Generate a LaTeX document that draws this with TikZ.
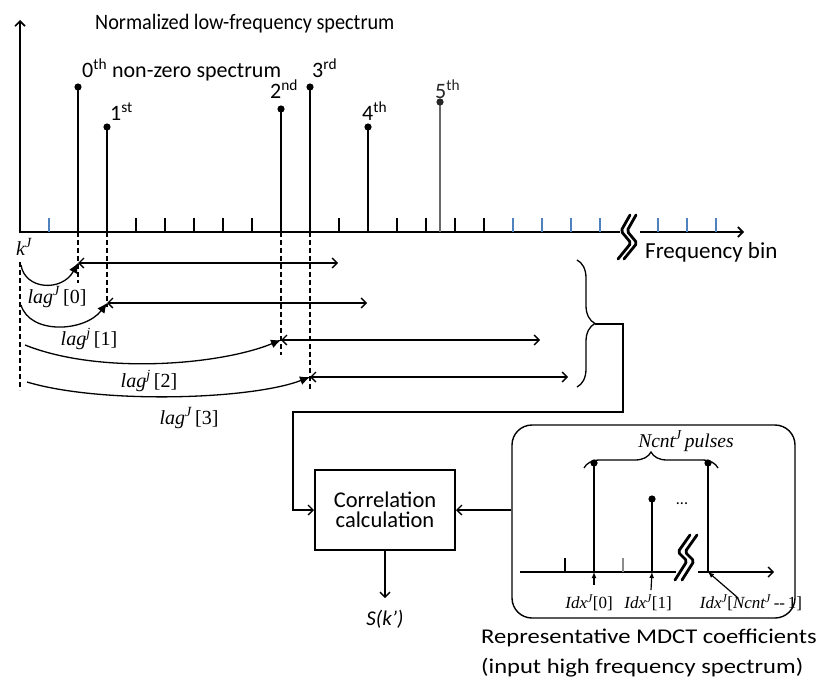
\documentclass[tikz,border=0pt]{standalone}
\usepackage{fontspec}
\setmainfont{Carlito}
\newfontfamily\tms{Liberation Serif}
\newfontfamily\wsans[FakeStretch=1.17]{Carlito}
\newfontfamily\nsans[FakeStretch=0.92]{Carlito}
\usetikzlibrary{arrows.meta,decorations.pathreplacing}
\definecolor{tickblue}{RGB}{79,129,189}
\definecolor{stemgray}{RGB}{105,105,105}
\newcommand\myfs[1]{\fontsize{#1}{#1}\selectfont}
\tikzset{
  axisline/.style={line width=1.6pt,-{Straight Barb[length=5pt,width=10pt]}},
  tickb/.style={line width=1.5pt},
  tickc/.style={line width=1.2pt,tickblue},
  stemline/.style={line width=1.7pt},
  dashv/.style={line width=1.3pt,dash pattern=on 5pt off 3pt},
  dbl/.style={line width=1.3pt,{Straight Barb[length=5pt,width=10pt]}-{Straight Barb[length=5pt,width=10pt]}},
  openarr/.style={line width=1.3pt,-{Straight Barb[length=5pt,width=10pt]}},
  lagarr/.style={line width=1.3pt,-{Latex[length=10pt,width=9pt]}},
  smallarr/.style={line width=1.2pt,-{Latex[length=6pt,width=5pt]}},
  brk/.style={line width=2.8pt,line cap=round,line join=round,rounded corners=2pt},
  lbl/.style={inner sep=0pt,anchor=base west},
  slbl/.style={inner sep=0pt,anchor=base west,font=\myfs{22}},
  tlbl/.style={inner sep=0pt,font=\tms\itshape\myfs{20}},
  ilbl/.style={inner sep=0pt,font=\tms\itshape\myfs{17}},
}
\begin{document}
\begin{tikzpicture}[x=1pt,y=-1pt]
\useasboundingbox[fill=white] (0,0) rectangle (830,680);

% axes
\coordinate (o) at (20,232);
\coordinate (ytop) at (20,20);
\coordinate (xend) at (744,232);
\draw[axisline] (20,233) -- (ytop);
\draw[axisline] (19,232) -- (xend);

% ticks
\foreach \k in {2,...,16} \draw[tickb] (20+29*\k,218) -- (20+29*\k,232);
\foreach \k in {1,17,18,19,20,22,23,24} \draw[tickc] (20+29*\k,218) -- (20+29*\k,232);

% break on main axis
\fill[white] (620,227) rectangle (640,237);
\draw[brk] (630,215) -- (621,231) -- (631,243) -- (618,259);
\draw[brk] (636,215) -- (627,231) -- (637,243) -- (624,259);

% stems
\foreach \n/\x/\y in {0/78/87,1/107/127,2/281/109,3/310/87,4/368/127}{
  \coordinate (s\n b) at (\x,232);
  \coordinate (s\n t) at (\x,\y);
  \draw[stemline] (s\n b) -- (s\n t);
  \fill (s\n t) circle (3.6pt);
}
\coordinate (s5b) at (440,232);
\coordinate (s5t) at (440,102);
\draw[line width=1.3pt,stemgray] (s5b) -- (s5t);
\fill[black!85] (s5t) circle (3.6pt);

% titles and stem labels
\node[lbl,font=\nsans\myfs{22}] (title) at (95,29) {Normalized low-frequency spectrum};
\node[slbl] (l0) at (82,77) {0\textsuperscript{th} non-zero spectrum};
\node[slbl] (l1) at (110,120) {1\textsuperscript{st}};
\node[slbl] (l2) at (270,98) {2\textsuperscript{nd}};
\node[slbl] (l3) at (312,77) {3\textsuperscript{rd}};
\node[slbl] (l4) at (362,120) {4\textsuperscript{th}};
\node[slbl,text=black!85] (l5) at (435,98) {5\textsuperscript{th}};
\node[lbl,font=\myfs{23}] (fbin) at (645,258) {Frequency bin};

% k^J
\node[tlbl] (kJ) at (24,247) {k\textsuperscript{J}};

% dashed verticals
\coordinate (d0) at (78,283);
\coordinate (d1) at (107,307);
\coordinate (d2) at (281,355);
\coordinate (d3) at (310,390);
\coordinate (dk0) at (20,262);
\coordinate (dk1) at (20,390);
\draw[dashv] (s0b) -- (d0);
\draw[dashv] (s1b) -- (d1);
\draw[dashv] (s2b) -- (d2);
\draw[dashv] (s3b) -- (d3);
\draw[dashv] (dk0) -- (dk1);

% horizontal double arrows
\coordinate (h0a) at (78,263);  \coordinate (h0b) at (338,263);
\coordinate (h1a) at (107,303); \coordinate (h1b) at (367,303);
\coordinate (h2a) at (281,340); \coordinate (h2b) at (540,340);
\coordinate (h3a) at (310,377); \coordinate (h3b) at (568,377);
\draw[dbl] (h0a) -- (h0b);
\draw[dbl] (h1a) -- (h1b);
\draw[dbl] (h2a) -- (h2b);
\draw[dbl] (h3a) -- (h3b);

% lag curves
\coordinate (c0) at (21,265);
\coordinate (c1) at (21,305);
\coordinate (c2) at (25,345);
\coordinate (c3) at (27,382);
\draw[lagarr] (c0) .. controls (25,290) and (62,292) .. (h0a);
\draw[lagarr] (c1) .. controls (30,335) and (85,332) .. (h1a);
\draw[lagarr] (c2) .. controls (100,375) and (220,365) .. (h2a);
\draw[lagarr] (c3) .. controls (100,404) and (250,400) .. (h3a);
\node[tlbl] (lag0) at (57,297) {lag\textsuperscript{J}\,{\upshape[0]}};
\node[tlbl] (lag1) at (89,339) {lag\textsuperscript{j}\,{\upshape[1]}};
\node[tlbl] (lag2) at (149,381) {lag\textsuperscript{j}\,{\upshape[2]}};
\node[tlbl] (lag3) at (189,418) {lag\textsuperscript{J}\,{\upshape[3]}};

% brace and routing
\coordinate (bra) at (577,260);
\coordinate (brb) at (577,387);
\draw[line width=1.3pt,decorate,decoration={brace,amplitude=18pt}] (bra) -- (brb);
\coordinate (bt) at (595,324);

% correlation box
\node[draw,line width=2pt,minimum width=140pt,minimum height=80pt,align=center,font=\myfs{22.5},inner sep=2pt] (corr) at (385,510) {Correlation\\[-2pt]calculation};
\coordinate (r1) at (623,324);
\coordinate (r2) at (623,412);
\coordinate (r3) at (293,412);
\draw[openarr] (bt) -- (r1) -- (r2) -- (r3) |- (corr.west);

\coordinate (sarr) at (385,598);
\draw[openarr] (corr.south) -- (sarr);
\node[inner sep=0pt,font=\itshape\myfs{21}] (S) at (385,619) {S(k')};

% high frequency box
\node[draw,line width=1.4pt,rounded corners=20pt,minimum width=283pt,minimum height=193pt] (hf) at (653.5,521.5) {};
\draw[openarr] (corr.east -| hf.west) -- (corr.east);

% inner axis
\coordinate (ia0) at (520,572);
\coordinate (ia1) at (774,572);
\draw[line width=1.4pt,-{Straight Barb[length=5pt,width=10pt]}] (ia0) -- (ia1);
\draw[tickb] (565,558) -- (565,572);
\draw[line width=1.2pt,black!45] (623,558) -- (623,572);
\foreach \n/\x/\y in {a/594/463,b/652/499,c/708/463}{
  \coordinate (p\n b) at (\x,572);
  \coordinate (p\n t) at (\x,\y);
  \draw[stemline] (p\n b) -- (p\n t);
  \fill (p\n t) circle (3.6pt);
}
\node[inner sep=0pt,font=\myfs{16}] (dots) at (682,504) {...};
\fill[white] (676,567) rectangle (698,577);
\draw[brk] (690,535) -- (678,552) -- (687,561) -- (675,580);
\draw[brk] (697,535) -- (685,552) -- (694,561) -- (682,580);
\draw[line width=1.3pt,decorate,decoration={brace,amplitude=16pt}] (584,468) -- (718,468);
\node[ilbl,font=\tms\itshape\myfs{19.5}] (ncnt) at (686,441) {Ncnt\textsuperscript{J}\,pulses};

% idx arrows and labels
\coordinate (q0) at (594,585);
\coordinate (q1) at (651,590);
\coordinate (q2) at (737,597);
\draw[smallarr] (q0) -- (pab);
\draw[smallarr] (q1) -- (pbb);
\draw[smallarr] (q2) -- (pcb);
\node[ilbl] (i0) at (589,603) {Idx\textsuperscript{J}{\upshape[0]}};
\node[ilbl] (i1) at (648,603) {Idx\textsuperscript{J}{\upshape[1]}};
\node[ilbl] (i2) at (751,603) {Idx\textsuperscript{J}{\upshape[}Ncnt\textsuperscript{J}{\upshape\,--\,1]}};

\node[lbl,font=\wsans\myfs{21}] (rep) at (481,643) {Representative MDCT coefficients};
\node[lbl,font=\wsans\myfs{21}] (inp) at (481,673) {(input high frequency spectrum)};
\end{tikzpicture}
\end{document}
